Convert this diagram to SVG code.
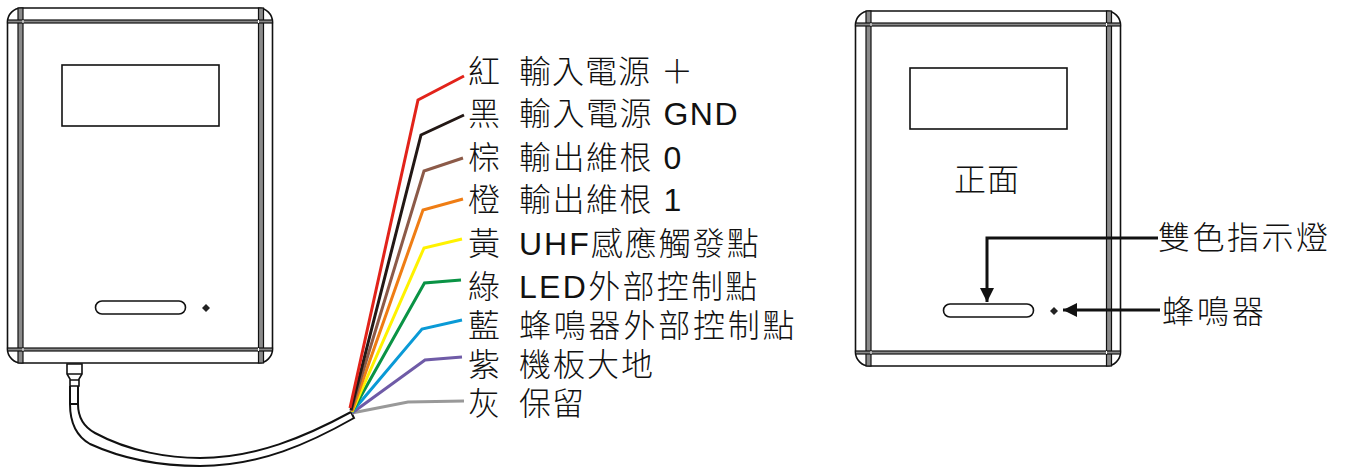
<svg xmlns="http://www.w3.org/2000/svg" width="1347" height="468" viewBox="0 0 1347 468">
<style>
text{font-family:"Liberation Sans","Noto Sans CJK TC",sans-serif;font-weight:300;font-size:32px;fill:#111;dominant-baseline:central}
.l{fill:none;stroke:#111;stroke-width:1.6}
.b{fill:#8a8a8a;stroke:#111;stroke-width:1.2}
.x{stroke:#fff;stroke-width:1}
.w{fill:none;stroke-width:3;stroke-linejoin:miter}
.a{fill:none;stroke:#111;stroke-width:3}
.c{fill:none;stroke:#111;stroke-width:2}
</style>
<defs>
<marker id="ah" markerUnits="userSpaceOnUse" markerWidth="15" markerHeight="15" refX="14" refY="7" orient="auto"><path d="M0 0L14 7L0 14Z" fill="#111"/></marker>
<g id="dev">
<rect class="l" x="0" y="0" width="265" height="355" rx="14"/>
<rect class="b" x="10.500" y="0" width="5" height="355"/>
<rect class="b" x="251" y="0" width="5" height="355"/>
<rect class="b" x="0" y="12" width="265" height="3"/>
<rect class="b" x="0" y="340" width="265" height="3"/>
<path class="x" d="M15.500 12V15M251 12V15M15.500 340V343M251 340V343"/>
<rect class="l" x="54.500" y="57" width="157" height="61"/>
<rect class="l" x="88" y="293" width="90" height="13" rx="6.500"/>
<path d="M198.500 296L202.500 300L198.500 304L194.500 300Z" fill="#222"/>
</g>
</defs>
<g id="device-back"><use href="#dev" x="7.500" y="8"/></g>
<g id="device-front"><use href="#dev" x="855.500" y="11"/></g>
<g id="cable">
<path class="l" d="M67 364H82V374L79 379V386H70V379L67 374Z"/>
<path class="l" d="M67 374H82M70 380H79"/>
<path class="c" d="M70 386V404M78 386V404M70 404H78"/>
<path class="c" d="M78 404C78 418 84 427 95 433C130 452 170 458 200 458C255 458 305 437 351 412"/>
<path class="c" d="M70 404C70 422 76 436 90 444C125 460 165 466 200 466C260 466 310 443 354 418L351 412"/>
</g>
<g id="connectors">
<path class="w" stroke="#999" d="M352 413L408 402L464 401"/>
<path class="w" stroke="#6f5ba7" d="M352 413L425 360L462 357"/>
<path class="w" stroke="#0a9ad6" d="M352 412L422 329L462 320"/>
<path class="w" stroke="#0a9345" d="M352 412L424.500 283L461 280"/>
<path class="w" stroke="#fff200" d="M352 412L424 248L462 239"/>
<path class="w" stroke="#ef7d14" d="M352 411L423 210L463 199"/>
<path class="w" stroke="#8c5a48" d="M351 411L424 171L463 158"/>
<path class="w" stroke="#231815" d="M351 410L421 135L464 115"/>
<path class="w" stroke="#e2231a" d="M350 408L418 100L464 76"/>
<path class="a" marker-end="url(#ah)" d="M1158 238H987V302"/>
<path class="a" marker-end="url(#ah)" d="M1160 310H1063"/>
</g>
<g id="label-red"><text x="468" y="72">紅</text><text x="519" y="72" letter-spacing="1">輸入電源 ＋</text></g>
<g id="label-black"><text x="468" y="114">黑</text><text x="519" y="114" letter-spacing="1.500">輸入電源 GND</text></g>
<g id="label-brown"><text x="468" y="158">棕</text><text x="519" y="158" letter-spacing="1.500">輸出維根 0</text></g>
<g id="label-orange"><text x="468" y="200">橙</text><text x="519" y="200" letter-spacing="1.500">輸出維根 1</text></g>
<g id="label-yellow"><text x="468" y="244">黃</text><text x="519" y="244" letter-spacing="2">UHF感應觸發點</text></g>
<g id="label-green"><text x="468" y="287">綠</text><text x="519" y="287" letter-spacing="2.300">LED外部控制點</text></g>
<g id="label-blue"><text x="468" y="326">藍</text><text x="519" y="326" letter-spacing="2.800">蜂鳴器外部控制點</text></g>
<g id="label-purple"><text x="468" y="365">紫</text><text x="519" y="365" letter-spacing="2">機板大地</text></g>
<g id="label-gray"><text x="468" y="404">灰</text><text x="519" y="404" letter-spacing="1">保留</text></g>
<g id="label-front"><text x="954" y="180" letter-spacing="1">正面</text></g>
<g id="label-led"><text x="1158" y="238" letter-spacing="2.500">雙色指示燈</text></g>
<g id="label-buzzer"><text x="1162" y="312" letter-spacing="3">蜂鳴器</text></g>
</svg>
